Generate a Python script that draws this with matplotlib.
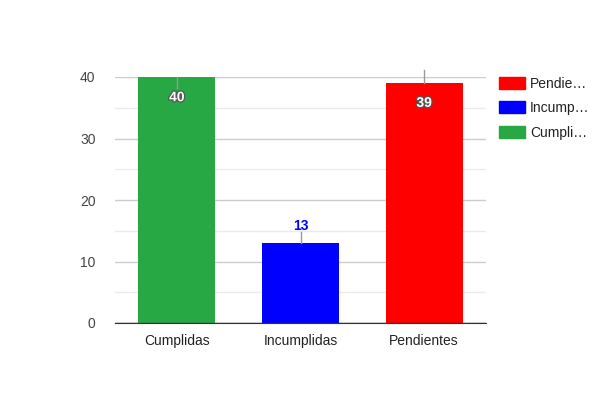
import matplotlib
matplotlib.use("Agg")
import matplotlib.pyplot as plt
import matplotlib.patheffects as pe
from matplotlib.patches import Patch

plt.rcParams['font.family'] = ['Liberation Sans', 'DejaVu Sans']

categories = ["Cumplidas", "Incumplidas", "Pendientes"]
values = [40, 13, 39]
colors = ["#28a745", "#0000ff", "#ff0000"]
legend_labels = ["Pendie…", "Incump…", "Cumpli…"]
legend_colors = ["#ff0000", "#0000ff", "#28a745"]
yticks = [0, 10, 20, 30, 40]

fig = plt.figure(figsize=(6, 4), dpi=100)
ax = fig.add_axes([115/600, 77/400, 371/600, 246/400])

x = list(range(len(categories)))
ax.bar(x, values, width=0.62, color=colors, zorder=3)

ax.set_xlim(-0.5, 2.5)
ax.set_ylim(0, 40)
ax.set_yticks(yticks)
ax.set_yticks([5, 15, 25, 35], minor=True)
ax.grid(axis='y', which='major', color='#cccccc', lw=1, zorder=0)
ax.grid(axis='y', which='minor', color='#ebebeb', lw=1, zorder=0)
ax.set_xticks(x)
ax.set_xticklabels(categories)
ax.tick_params(axis='both', which='both', length=0)
ax.tick_params(axis='both', labelsize=10, labelcolor='#222222')
ax.tick_params(axis='y', pad=14, labelcolor='#444444')
ax.tick_params(axis='x', pad=8)
for s in ['top', 'right', 'left']:
    ax.spines[s].set_visible(False)
ax.spines['bottom'].set_color('#333333')
ax.axhline(0, color='#333333', lw=1, zorder=4)

# annotations: (stem start, stem end, label y, inside)
annos = [(40, 38.2, 36.7, True), (13, 14.8, 15.8, False), (41.1, 39, 35.8, True)]
for xi, v, c, (s0, s1, ly, inside) in zip(x, values, colors, annos):
    ax.plot([xi, xi], [s0, s1], color='#999999', lw=1, zorder=4, clip_on=False)
    if inside:
        ax.text(xi, ly, str(v), ha='center', va='center', fontsize=10, fontweight='bold',
                color='white', zorder=5,
                path_effects=[pe.withStroke(linewidth=1.8, foreground='#555555')])
    else:
        ax.text(xi, ly, str(v), ha='center', va='center', fontsize=10, fontweight='bold',
                color=c, zorder=5)

handles = [Patch(color=c) for c in legend_colors]
fig.legend(handles, legend_labels, loc='upper left', bbox_to_anchor=(486/600, 1 - 64/400),
           frameon=False, fontsize=10, handlelength=1.9, handleheight=0.95,
           labelspacing=0.76, handletextpad=0.36, labelcolor='#222222')

fig.savefig("out.png", dpi=100)
